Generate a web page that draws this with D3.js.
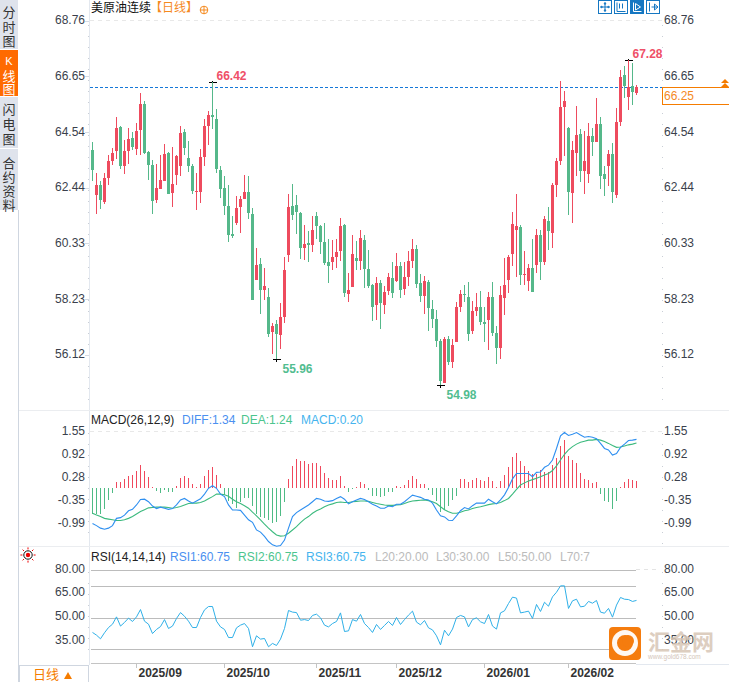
<!DOCTYPE html>
<html><head><meta charset="utf-8">
<script src="https://cdn.jsdelivr.net/npm/d3@7/dist/d3.min.js"></script>
<style>html,body{margin:0;padding:0;background:#fff;overflow:hidden}svg{display:block}text{font-family:"Liberation Sans",Arial,"Noto Sans CJK SC",sans-serif}</style>
</head><body><svg id="c" width="729" height="682"></svg>
<script>
const opens=[63.86,62.15,62.53,61.89,62.80,63.44,63.82,64.73,63.25,63.82,64.32,63.90,64.62,65.60,63.78,63.29,61.97,62.38,62.68,63.75,62.23,62.91,63.25,64.54,63.56,63.25,62.26,62.26,63.59,64.77,65.18,65.03,63.10,62.42,61.74,60.68,61.10,61.70,62.00,62.26,61.43,58.94,59.54,58.56,58.29,56.97,57.27,56.85,57.53,59.88,61.74,61.78,61.47,60.15,60.34,60.26,61.36,60.98,60.38,59.62,59.62,59.80,60.04,61.02,58.41,58.67,59.77,59.65,60.45,59.35,58.75,57.99,58.82,57.99,58.52,59.01,58.90,59.47,58.60,59.05,59.65,60.11,58.82,58.33,58.86,57.84,57.46,56.63,55.04,56.70,55.83,56.59,57.91,58.41,58.29,57.00,57.76,57.91,57.35,57.42,58.29,56.93,56.37,58.26,58.94,59.92,60.83,60.94,59.13,58.90,59.39,59.50,60.64,59.62,61.17,60.72,62.53,63.44,65.48,64.69,62.23,63.75,64.47,63.06,62.95,64.39,64.16,64.84,62.95,63.25,63.71,62.15,64.92,66.70,65.86,66.28,66.02];
const closes=[63.10,62.53,61.97,62.80,63.44,63.75,64.69,63.25,63.82,64.28,63.98,64.58,65.60,63.75,63.29,61.93,62.42,62.72,63.71,62.19,62.57,63.63,64.50,63.94,63.25,62.30,62.30,63.59,64.77,65.18,65.11,63.14,62.38,61.74,60.64,60.60,61.66,62.00,62.26,61.47,58.18,59.50,58.56,58.71,56.89,57.19,56.89,57.53,59.32,61.70,61.40,61.51,60.15,60.30,60.26,60.83,60.98,60.38,59.58,59.47,59.80,59.99,60.98,58.45,58.56,59.92,59.65,60.53,59.35,58.71,57.91,58.82,58.06,58.48,59.05,58.45,59.47,58.56,59.05,59.65,60.11,58.78,58.33,58.90,57.88,57.46,56.63,55.12,56.70,55.83,56.48,57.91,58.41,58.37,56.89,57.76,57.91,57.35,57.27,58.29,56.93,56.37,58.37,58.75,59.80,61.06,60.98,59.13,59.16,59.39,58.48,60.64,59.62,61.25,60.79,62.53,63.44,65.48,65.71,62.26,63.86,64.43,63.06,63.44,64.39,64.16,64.84,62.87,62.76,63.71,62.26,64.92,66.62,66.28,66.25,66.06,66.25];
const highs=[64.16,62.99,62.68,62.99,63.67,63.94,65.11,64.77,64.24,64.69,64.54,64.88,66.02,65.71,63.82,63.48,63.33,63.67,64.09,63.78,63.97,63.67,64.77,64.65,64.20,63.33,62.99,63.90,65.03,65.33,66.42,65.41,63.25,62.87,62.53,61.36,62.12,62.12,62.91,62.87,61.66,60.15,59.77,59.39,58.63,57.31,57.42,58.06,59.80,62.19,62.57,62.15,61.51,61.02,60.79,61.36,61.51,61.02,61.10,60.49,60.45,60.49,61.28,61.06,59.20,60.64,60.41,60.83,60.64,60.07,58.78,59.05,58.94,58.71,59.20,59.62,59.95,59.62,59.62,60.04,60.49,60.26,59.16,59.09,58.94,58.18,57.80,56.70,56.78,56.81,56.70,58.10,58.56,58.75,58.86,58.14,58.45,58.52,57.91,58.48,58.86,57.19,58.71,59.77,59.88,61.51,62.19,61.02,60.04,59.54,60.49,60.87,60.83,61.36,61.70,62.61,63.56,66.46,66.08,64.73,64.20,65.52,64.65,64.58,64.88,64.69,65.82,65.11,63.25,63.86,64.13,65.44,66.89,67.04,67.28,67.15,66.32];
const lows=[62.68,61.43,61.62,61.81,62.53,63.29,63.52,63.14,62.95,63.33,63.86,63.67,63.67,63.71,62.72,61.43,61.85,62.38,62.68,62.19,61.70,62.53,62.87,63.67,63.02,62.19,61.59,61.85,63.25,64.05,64.65,62.99,62.04,61.40,60.38,60.53,61.02,60.72,62.00,61.25,58.18,58.94,57.65,58.18,56.78,56.14,55.96,56.32,57.31,59.62,61.21,60.68,59.73,59.69,59.62,59.99,60.49,59.92,59.50,58.82,59.32,59.39,59.65,58.29,58.10,58.67,59.32,59.32,58.63,58.63,57.38,57.42,57.08,57.65,58.37,58.26,58.86,58.26,58.37,58.71,59.39,58.63,58.10,57.65,57.00,57.12,56.40,54.98,55.04,55.72,55.61,56.59,57.73,58.10,56.63,56.89,57.57,57.23,56.59,56.29,56.81,55.76,55.96,57.61,58.45,59.47,59.05,58.75,58.75,58.52,58.48,59.20,58.94,59.50,60.07,60.15,62.08,63.29,63.63,61.40,61.10,62.87,62.64,62.19,62.61,63.63,64.16,62.38,62.12,62.49,61.85,62.04,64.77,65.82,65.37,65.56,65.94];
const macdHist=[-0.72,-0.72,-0.72,-0.58,-0.33,-0.14,0.17,0.17,0.25,0.33,0.36,0.47,0.63,0.47,0.30,0.03,-0.08,-0.14,-0.06,-0.11,-0.11,0.06,0.28,0.33,0.28,0.11,0.02,0.11,0.33,0.50,0.58,0.36,0.11,-0.19,-0.36,-0.44,-0.55,-0.39,-0.28,-0.28,-0.50,-0.72,-0.80,-0.83,-0.88,-0.97,-0.94,-0.77,-0.39,0.25,0.61,0.80,0.75,0.75,0.66,0.69,0.69,0.61,0.41,0.28,0.22,0.22,0.33,0.06,-0.11,-0.03,0.03,0.17,0.11,-0.06,-0.22,-0.22,-0.25,-0.22,-0.11,-0.11,0.06,0.03,0.08,0.22,0.33,0.25,0.11,0.11,-0.06,-0.19,-0.36,-0.66,-0.61,-0.50,-0.33,-0.22,0.25,0.25,0.17,0.22,0.28,0.22,0.19,0.30,0.19,0.03,0.19,0.36,0.58,0.86,0.97,0.75,0.61,0.47,0.39,0.39,0.50,0.44,0.44,0.63,0.83,1.16,1.32,0.88,0.77,0.69,0.41,0.25,0.22,0.14,0.17,-0.17,-0.36,-0.39,-0.58,-0.36,0.03,0.17,0.25,0.22,0.20];
const diff=[-0.98,-1.04,-1.11,-1.14,-1.11,-1.04,-0.84,-0.82,-0.75,-0.63,-0.59,-0.47,-0.32,-0.31,-0.38,-0.50,-0.57,-0.53,-0.56,-0.59,-0.57,-0.47,-0.33,-0.29,-0.36,-0.42,-0.36,-0.30,-0.17,-0.01,0.06,-0.01,-0.17,-0.24,-0.47,-0.61,-0.61,-0.62,-0.75,-0.88,-0.95,-1.16,-1.22,-1.34,-1.48,-1.57,-1.61,-1.59,-1.44,-1.11,-0.79,-0.68,-0.61,-0.54,-0.47,-0.38,-0.29,-0.31,-0.36,-0.37,-0.35,-0.29,-0.24,-0.31,-0.44,-0.38,-0.33,-0.29,-0.32,-0.38,-0.45,-0.50,-0.56,-0.56,-0.50,-0.52,-0.45,-0.45,-0.38,-0.29,-0.20,-0.23,-0.26,-0.31,-0.33,-0.42,-0.61,-0.77,-0.80,-0.89,-0.90,-0.77,-0.63,-0.54,-0.58,-0.49,-0.42,-0.42,-0.42,-0.31,-0.38,-0.44,-0.33,-0.19,0.01,0.25,0.40,0.40,0.40,0.40,0.31,0.43,0.44,0.57,0.63,0.77,1.09,1.44,1.53,1.45,1.48,1.53,1.46,1.40,1.42,1.40,1.36,1.23,1.09,1.05,0.91,0.95,1.12,1.21,1.31,1.32,1.34];
const dea=[-0.70,-0.75,-0.79,-0.84,-0.86,-0.88,-0.90,-0.90,-0.88,-0.84,-0.79,-0.72,-0.65,-0.60,-0.55,-0.54,-0.53,-0.53,-0.53,-0.54,-0.56,-0.54,-0.51,-0.47,-0.43,-0.42,-0.42,-0.40,-0.36,-0.30,-0.24,-0.17,-0.17,-0.19,-0.23,-0.31,-0.38,-0.43,-0.49,-0.56,-0.67,-0.77,-0.88,-1.00,-1.11,-1.21,-1.30,-1.33,-1.32,-1.25,-1.16,-1.07,-0.96,-0.86,-0.79,-0.70,-0.63,-0.58,-0.52,-0.47,-0.44,-0.40,-0.39,-0.40,-0.40,-0.38,-0.37,-0.36,-0.36,-0.37,-0.40,-0.43,-0.45,-0.47,-0.48,-0.48,-0.47,-0.46,-0.43,-0.39,-0.36,-0.35,-0.34,-0.33,-0.35,-0.38,-0.43,-0.52,-0.60,-0.66,-0.70,-0.70,-0.67,-0.63,-0.61,-0.57,-0.54,-0.52,-0.49,-0.46,-0.44,-0.43,-0.40,-0.35,-0.29,-0.17,-0.04,0.08,0.14,0.19,0.23,0.27,0.31,0.36,0.40,0.48,0.61,0.77,0.93,1.05,1.14,1.21,1.26,1.29,1.32,1.32,1.34,1.32,1.28,1.23,1.17,1.12,1.13,1.16,1.19,1.21,1.24];
const rsi=[40.6,38.9,36.6,40.4,43.7,45.8,50.4,44.6,46.9,49.6,47.5,50.4,55.0,47.7,45.8,39.9,42.5,44.3,48.7,43.1,44.6,49.4,53.1,50.8,47.7,43.7,43.7,50.0,54.8,56.9,56.9,47.7,44.1,42.5,37.4,37.4,43.5,45.2,46.2,43.1,31.6,38.5,36.4,36.8,31.6,33.7,32.4,36.4,43.1,54.4,53.4,53.1,48.3,48.7,48.1,51.3,52.1,49.8,45.2,44.1,46.2,47.5,52.9,41.2,41.6,48.7,47.7,51.9,46.2,43.7,40.6,45.6,42.5,45.0,47.5,45.0,50.0,45.6,48.7,51.5,54.0,47.1,45.4,48.1,43.5,42.2,38.5,32.8,42.0,38.5,42.7,50.0,51.3,50.4,44.1,48.7,49.8,47.3,46.2,51.9,44.6,42.7,52.9,54.2,58.8,62.8,62.2,52.9,53.4,54.0,49.4,58.2,53.8,59.6,57.1,63.0,65.9,69.9,69.9,55.7,60.5,61.5,56.7,57.1,60.1,59.0,60.7,53.4,52.7,55.7,50.2,57.8,62.6,61.5,61.3,60.1,60.75];
const priceTicks=["68.76","66.65","64.54","62.44","60.33","58.23","56.12"];
const macdTicks=["1.55","0.92","0.28","-0.35","-0.99"];
const rsiTicks=["80.00","65.00","50.00","35.00"];
const rsiLevels=[80,70,50,30];
const dateIdx=[11,33,56,76,98,119];
const dateLabels=["2025/09","2025/10","2025/11","2025/12","2026/01","2026/02"];
const sideTabs=[["分","时","图"],["K","线","图"],["闪","电","图"],["合","约","资","料"]];
const highlights=[{i:30,v:66.42,c:"#ef5068",dx:4,dy:-3},{i:134,v:67.28,c:"#ef5068",dx:4,dy:-3},{i:46,v:55.96,c:"#52bd90",dx:6,dy:12},{i:87,v:54.98,c:"#52bd90",dx:6,dy:12}];

const RED="#ee4b5e",GREEN="#55b88a",AXC="#3a3f4c",PALE="#e3e8ef";
const svg=d3.select("#c");
const x=d3.scaleLinear().domain([0,136]).range([92.5,636.5]);
const yP=d3.scaleLinear().domain([68.76,56.12]).range([20.5,354.5]);
const yM=d3.scaleLinear().domain([1.55,-0.99]).range([431.8,523.8]);
const yR=d3.scaleLinear().domain([80,30]).range([569.8,649.3]);
const idx=d3.range(opens.length);

// frame
const fr=svg.append("g").attr("shape-rendering","crispEdges");
const vl=(X,a,b,c)=>fr.append("line").attr("x1",X).attr("x2",X).attr("y1",a).attr("y2",b).attr("stroke",c);
const hl=(Y,a,b,c,da)=>fr.append("line").attr("y1",Y).attr("y2",Y).attr("x1",a).attr("x2",b).attr("stroke",c).attr("stroke-dasharray",da||null);
vl(18.5,210,682,"#cfd6e0");vl(89.5,0,665,PALE);
hl(410.5,19,729,"#ebedf0");hl(546.5,19,729,"#ebedf0");
vl(88,25,405,"#c9ced6").attr("stroke-dasharray","1,10");
vl(88,433,540,"#c9ced6").attr("stroke-dasharray","1,10");
vl(88,572,660,"#c9ced6").attr("stroke-dasharray","1,10");
vl(662.5,25,405,"#c9ced6").attr("stroke-dasharray","1,10");
vl(662.5,433,545,"#c9ced6").attr("stroke-dasharray","1,10");
vl(662.5,572,660,"#c9ced6").attr("stroke-dasharray","1,10");
hl(20.5,90,662,"#e8e8e8","4,4");
hl(431.5,90,662,"#e8e8e8","4,4");
hl(569.5,636,660,"#e4e4e4","4,4");

// sidebar
const tabG=svg.append("g");
const tabRects=[[0,49,"#dfe3ec"],[50,46,"#ff6a00"],[97,51,"#dfe3ec"],[149,61,"#dfe3ec"]];
const tabY=[[12,27,41],[61,76,89],[109,124,139],[163,177,191,205]];
sideTabs.forEach((t,k)=>{
  tabG.append("rect").attr("x",0).attr("y",tabRects[k][0]).attr("width",18).attr("height",tabRects[k][1]).attr("fill",tabRects[k][2]);
  t.forEach((ch,j)=>tabG.append("text").attr("x",9).attr("y",tabY[k][j]).attr("dy","0.36em").attr("text-anchor","middle").attr("font-size",k==1&&j==0?11:13).attr("fill",k==1?"#fff":"#333").text(ch));
});

// tick labels
function labels(ticks,scale,off){
  ticks.forEach(t=>{
    const Y=scale(+t)+off;
    svg.append("text").attr("x",85).attr("y",Y).attr("dy","0.36em").attr("text-anchor","end").attr("font-size",12).attr("fill",AXC).text(t);
    svg.append("text").attr("x",664).attr("y",Y).attr("dy","0.36em").attr("font-size",12).attr("fill",AXC).text(t);
  });
}
labels(priceTicks,yP,-0.5);labels(macdTicks,yM,-0.8);labels(rsiTicks,yR,-1.5);
priceTicks.forEach(t=>{fr.append("line").attr("x1",85).attr("x2",89).attr("y1",Math.round(yP(+t))+.5).attr("y2",Math.round(yP(+t))+.5).attr("stroke","#d5dbe3");});

// candles
const cg=svg.append("g").attr("shape-rendering","crispEdges");
const col=i=>closes[i]>=opens[i]?RED:GREEN;
cg.selectAll("line").data(idx).join("line").attr("x1",x).attr("x2",x)
  .attr("y1",i=>yP(highs[i])).attr("y2",i=>yP(lows[i])).attr("stroke",col);
cg.selectAll("rect").data(idx).join("rect").attr("x",i=>x(i)-1.5).attr("width",3)
  .attr("y",i=>Math.round(yP(Math.max(opens[i],closes[i]))))
  .attr("height",i=>Math.max(1,Math.round(Math.abs(yP(opens[i])-yP(closes[i])))))
  .attr("fill",col);

// last price
const last=closes[closes.length-1];
const lastY=Math.round(yP(last))+.5;
hl(lastY,90,662,"#1578d8","3,2");
svg.append("rect").attr("x",662.5).attr("y",lastY).attr("width",70).attr("height",17).attr("fill","#fff").attr("stroke","#f57c00");
svg.append("text").attr("x",664).attr("y",lastY+8.5).attr("dy","0.36em").attr("font-size",12).attr("fill","#f58a1f").text(last.toFixed(2));
svg.append("path").attr("d","M725,79l4,4h-8zM725,83l4,4h-8z").attr("fill","#f57c00");

// extremes
highlights.forEach(h=>{
  const X=x(h.i),Y=Math.round(yP(h.v))+.5;
  fr.append("line").attr("x1",X-4).attr("x2",X+4).attr("y1",Y).attr("y2",Y).attr("stroke","#000");
  fr.append("line").attr("x1",X).attr("x2",X).attr("y1",Y-2).attr("y2",Y+2).attr("stroke","#000");
  svg.append("text").attr("x",X+h.dx).attr("y",Y+h.dy).attr("font-size",12).attr("font-weight","bold").attr("fill",h.c).attr("dy",h.dy<0?0:"0.1em").text(h.v.toFixed(2));
});

// macd
const mg=svg.append("g").attr("shape-rendering","crispEdges");
mg.selectAll("line").data(idx).join("line").attr("x1",x).attr("x2",x)
  .attr("y1",yM(0)).attr("y2",i=>yM(macdHist[i])).attr("stroke",i=>macdHist[i]>=0?"#f0485c":"#4fbb85");
const lineM=d3.line().x((d,i)=>x(i)).y(d=>yM(d));
svg.append("path").attr("d",lineM(dea)).attr("fill","none").attr("stroke","#3cba7e").attr("stroke-width",1.1);
svg.append("path").attr("d",lineM(diff)).attr("fill","none").attr("stroke","#2e8ff0").attr("stroke-width",1.1);

// rsi
const rg=svg.append("g").attr("shape-rendering","crispEdges");
rsiLevels.forEach(l=>hl(Math.round(yR(l))+.5,91,636,"#bcbcbc"));
hl(663.5,91,636,"#c4c4c4");hl(664.5,636,729,PALE);
svg.append("path").attr("d",d3.line().x((d,i)=>x(i)).y(d=>yR(d))(rsi)).attr("fill","none").attr("stroke","#2fb0e8").attr("stroke-width",1);

// date axis
dateIdx.forEach((d,k)=>{
  fr.append("line").attr("x1",x(d)).attr("x2",x(d)).attr("y1",664).attr("y2",668).attr("stroke","#c4c4c4");
  svg.append("text").attr("x",x(d)+2).attr("y",677).attr("font-size",12).attr("font-weight","bold").attr("fill","#333").text(dateLabels[k]);
});
svg.append("rect").attr("x",19.5).attr("y",665.5).attr("width",69).attr("height",20).attr("fill","#fff").attr("stroke","#cfd6e0");
svg.append("text").attr("x",33).attr("y",679).attr("font-size",13).attr("fill","#f57c00").attr("font-family","Noto Sans CJK SC").text("日线");
svg.append("path").attr("d","M68,672l4,7h-8z").attr("fill","#f57c00");

// titles
function legend(y,items){items.forEach(it=>svg.append("text").attr("x",it[0]).attr("y",y).attr("font-size",12).attr("fill",it[2]).text(it[1]));}
legend(12,[[91,"美原油连续","#111"],[150,"【日线】","#f58a1f"]]);
legend(424,[[91,"MACD(26,12,9)","#222"],[182,"DIFF:1.34","#4a90f0"],[241,"DEA:1.24","#4cc58e"],[301,"MACD:0.20","#45b4ee"]]);
legend(561,[[91,"RSI(14,14,14)","#222"],[170,"RSI1:60.75","#4a90f0"],[238,"RSI2:60.75","#4cc58e"],[306,"RSI3:60.75","#45b4ee"],[375,"L20:20.00","#bbb"],[436,"L30:30.00","#bbb"],[498,"L50:50.00","#bbb"],[560,"L70:7","#bbb"]]);
const o=svg.append("g").attr("fill","none").attr("stroke","#f58a1f");
o.append("circle").attr("cx",204).attr("cy",10).attr("r",3.8);
o.append("path").attr("d","M200,10h8M204,6v8");

// toolbar icons
const BLUE="#1577c2";
[0,16,32,48].forEach((d,k)=>{
  const g=svg.append("g").attr("transform",`translate(${598.5+d},0.5)`);
  g.append("rect").attr("width",13).attr("height",13).attr("fill",k==2?BLUE:"#fff").attr("stroke",BLUE);
  const c=k==2?"#fff":BLUE;
  const p=["M6.5,2v9M2,6.5h9M6.5,2l-1,1.5h2zM6.5,11l-1,-1.5h2zM2,6.5l1.5,-1v2zM11,6.5l-1.5,-1v2z","M2.5,2v9h8.5M5,3v5M8,3v5","M3,2v9h8M5,3l5,3.5-5,3z","M3,2v9M5,6.5h6M8,3.5l3.5,3-3.5,3z"][k];
  g.append("path").attr("d",p).attr("fill","none").attr("stroke",c);
});

// sun icon
const sun=svg.append("g").attr("transform","translate(28,555)");
sun.append("circle").attr("r",4.2).attr("fill","#fff").attr("stroke","#111");
sun.append("circle").attr("r",2.2).attr("fill","#e00");
d3.range(8).forEach(k=>{const a=k*Math.PI/4;sun.append("line").attr("x1",5.6*Math.cos(a)).attr("y1",5.6*Math.sin(a)).attr("x2",7.6*Math.cos(a)).attr("y2",7.6*Math.sin(a)).attr("stroke","#e00");});

// watermark
const w=svg.append("g");
w.append("rect").attr("x",609).attr("y",627).attr("width",32).attr("height",33).attr("rx",4).attr("fill","#f57c0e");
w.append("circle").attr("cx",625).attr("cy",643).attr("r",10.5).attr("fill","none").attr("stroke","#fff").attr("stroke-width",5).attr("opacity",.95);
w.append("circle").attr("cx",628).attr("cy",641).attr("r",6).attr("fill","#f57c0e");
w.append("text").attr("x",648).attr("y",650).attr("font-size",22).attr("font-weight","bold").attr("fill","#d8c6b6").attr("opacity",.85).attr("font-family","Noto Sans CJK SC").text("汇金网");
w.append("text").attr("x",648).attr("y",659).attr("font-size",6.5).attr("fill","#d4c6ba").text("www.gold678.com");
</script></body></html>
